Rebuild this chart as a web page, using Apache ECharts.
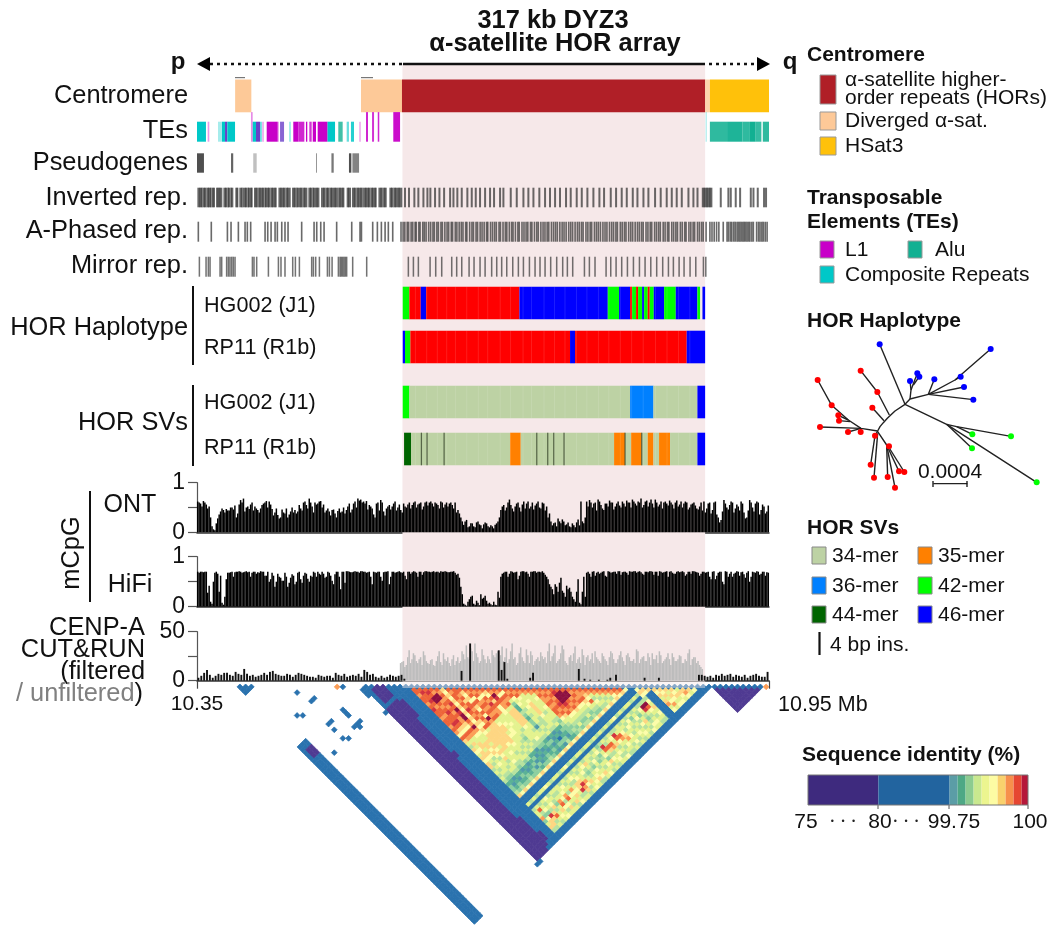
<!DOCTYPE html>
<html><head><meta charset="utf-8">
<style>html,body{margin:0;padding:0;background:#fff}#c{width:1050px;height:936px;filter:blur(.35px)}</style>
<script src="https://cdn.jsdelivr.net/npm/echarts@6/dist/echarts.min.js"></script>
</head><body><div id="c"></div>
<script>
// ---- Axis: kb from 10.35 Mb ----
const AXIS_KB = 600;
const AXIS_LABELS = {0:'{a|10.35}', 600:'{b|10.95 Mb}'};
const HOR_SPAN = [216, 533];

// ---- Segment tracks [startKb, endKb, colour, opacity, height] ----
const CENTROMERE = [[40,57,'div'],[172,215,'div'],[215,533,'hor'],[533,538,'div',.8],[538,600,'hsat']];
const TE_L1 = [[11.2,12.9,'l1',.4],[56.6,58.4,'l1',.45,1.48],[61.9,66.1,'mix'],[68.5,70,'l1',.4],[73.1,84.7,'l1'],[84.7,86,'l1',.35],[87.1,91.3,'mix',.8],[101,106.3,'l1'],[106.3,112.6,'l1',.85],[114.3,115.7,'l1'],[117.8,120.3,'l1',.8],[121.4,124.8,'l1'],[126.6,136.7,'l1'],[170.3,171.7,'l1',.4],[177.3,179.4,'l1',.85,1.48],[183.6,185.7,'l1',.8,1.48],[189.6,191.2,'l1',.85,1.48],[205.9,213,'l1',.95,1.48]];
const TE_COMP = [[0,9.4,'comp'],[22,26.2,'comp',.35],[26.2,29.4,'comp'],[29.4,31.8,'mix'],[31.8,39.9,'comp'],[58.4,61.9,'comp'],[66.1,68,'comp',.6],[96.5,98.6,'comp',.35],[136.7,144.8,'comp'],[148.2,152.8,'alu',.8],[157,159.4,'comp',.6],[161.5,164.7,'comp',.85],[533.6,534.6,'comp',.4,1.48]];
const TE_ALU = [[538,556,'alu',.88],[556,572,'alu',.95],[572,580,'alu',.88],[580,586,'alu',1],[586,592,'alu',.85],[593.5,600,'alu',.88]];
const PSEUDOGENES = [[0,7.3,.85],[35.7,38,.75],[59,62.6,.3],[124.8,125.9,.5],[141,143.4,.65],[159.4,161.9,.85],[163,170,.6]];
const INV_BLOCKS = [[.4,18.9],[20,26.6],[27.7,38.1],[40.2,43.4],[44.4,58.4],[59.8,83.6],[85.4,98.3],[99.7,115.8],[116.8,128.4],[130.1,154.6],[157,161.6],[162.6,188.5],[190.3,199],[201.8,215.4],[529.5,540.6]];
const INV_FLANK_DARK = [3,5,8,12,14,17,22,24,30,33,36,42,47,51,54,57,62,66,69,72,75,79,82,88,91,95,102,105,109,113,119,122,126,133,137,141,145,150,153,159,165,169,172,177,180,184,187,193,197,204,208,212,532,535,538];
const INV_FLANK_LIGHT = [6,10,15,32,35,48,53,64,71,77,93,104,111,121,135,139,148,167,174,182,195,206];
const INV_TICKS = [218.2,222.4,228,232.2,237.5,241.7,244.8,249.7,254.3,259.2,265.5,269,273.1,277.7,283.6,288.2,292.4,296.9,302.2,307.4,311.6,317.9,321.4,329.1,335.4,342.4,347.6,352.9,359.1,365.1,370.3,375.6,380.8,387.1,392,398.3,403.6,409.5,415.8,422.1,427,434,439.6,445.5,450.8,457.1,462,468.3,473.5,480.5,486.4,492.7,498,503.2,508.5,515.5,520.7,525,549.4,557.4,559.9,565.1,569.7,580.9,583.7,588.2,594.8,596.9];
const APHASED_TICKS = [1.4,15,31.9,35.7,43.4,50.4,52.8,56.3,71.4,74.2,77.7,81.9,84.3,88.9,92.3,95.5,109.8,122.8,125.6,129.8,133.3,146.5,162.3,171,172.5,184.3,189.2,193.4,197.3,200.7,205.3,
214,216.2,218,220.5,222,224.6,226.3,228.8,230,232.7,234,236.8,238.4,240.3,243,245.1,247.5,249,251.6,253.2,255.9,257.4,260,262.3,264,266.7,268.1,270.9,272.6,275,277.2,279,281.8,283.1,286,288.4,290,292.7,294.3,297,299,301.2,303.7,305,307.9,310,312.2,314,316.8,318.3,321,323.4,325,327.6,330,331.5,334,336.6,338,340.9,343,345.2,347,349.8,351.3,354,356.4,358,360.7,363,365,367.3,369,371.8,374,376.1,378,380.6,383,385,387.2,389.9,392,394,396.6,399,401,403.3,405,408,410,412.4,414,416.9,419,421,423.2,425.8,428,430,432.7,435,437,439.4,441,444,446,448.3,450,452.8,455,457,459.6,462,464,466.3,468,471,473,475.4,477,480,482,484.2,486,489,491,493.5,495,498,500,502.3,504,507,509,511.6,513,516,518,520.4,522,525,527,529.3,531,534,
538,540.2,542.5,545,547.4,552,556,557.6,559.5,561,563,564.6,566.5,568,569.5,571,572.6,574,575.5,577,578.6,580,582,583.6,587,589,590.6,592.5,594,596,598];
const MIRROR_TICKS = [2.5,9.5,11.9,13.7,24.2,25.9,31.1,32.9,34.6,36.4,38.1,39.9,58.1,59.8,62.6,74.9,85.4,88.1,92.3,100.4,103.2,107.4,120.3,122.1,124.5,128.4,136.8,138.9,141.7,148.3,150.1,151.4,152.8,154.2,155.6,157,163.3,178,
221.7,227,232.2,244.5,250.4,256.7,267.2,272.4,277.7,285.4,290.6,296.9,302.2,309.1,314.4,319.6,324.9,331.2,337.1,342.4,348.7,354.6,359.8,365.1,371,377.3,383.6,388.5,394.1,406.4,411.6,417.5,429.1,434,439.6,445.5,451.5,457.8,464.1,470,476,482.2,488.5,494.5,499.7,505.7,510.9,517.2,523.2,531.2,533.7];
const HAP_HG = [[215.8,222.8,'g42'],[222.8,234.7,'red'],[234.7,240.3,'b46'],[240.3,338.2,'red'],[338.2,430.9,'b46'],[430.9,442.7,'g42'],[442.7,454.3,'b46'],[454.3,456.4,'red'],[456.4,460.6,'g42'],[460.6,462.7,'red'],[462.7,466.9,'g42'],[466.9,469,'b46'],[469,472.8,'g42'],[472.8,474.9,'red'],[474.9,479.1,'g42'],[479.1,490,'b46'],[490,502.2,'g42'],[502.2,524.9,'b46'],[524.9,527.7,'g42'],[530.2,533,'b46']];
const HAP_RP = [[215.8,218.2,'b46'],[218.2,223.8,'g42'],[223.8,391.3,'red'],[391.3,396.6,'b46'],[396.6,513.7,'red'],[513.7,533,'b46']];
const SV_HG = [[215.8,222.8,'g42'],[222.8,454.3,'m34'],[454.3,478.8,'m36'],[478.8,524.9,'m34'],[524.9,533,'b46']];
const SV_RP = [[217.2,224.5,'m44'],[224.5,328.4,'m34'],[328.4,339.6,'m35'],[339.6,437.5,'m34'],[437.5,449,'m35'],[449,455.3,'m34'],[455.3,466.5,'m35'],[466.5,472.8,'m34'],[472.8,478.8,'m35'],[478.8,484.7,'m34'],[484.7,496.2,'m35'],[496.2,524.9,'m34'],[524.9,533,'b46']];
const SV_RP_INS = [235.4,241.3,259.2,356.4,367.9,374.2,385,449,466.5];
const HOR_FAINT = [229,241,252,262,271,283,295,305,318,329,342,351,364,375,386,398,409,421,432,444,456,468,481,493,505,517];

// ---- Signal tracks: two readings per 3 kb bin (first and second half) ----
const BIN_KB = 3;
const ONT = [62,58,63,56,52,12,4,28,42,45,47,44,50,54,38,65,68,50,47,60,52,45,48,58,63,62,47,40,35,30,40,48,36,50,45,42,48,60,55,68,52,60,58,63,56,44,42,45,38,43,40,50,45,58,46,62,68,66,62,63,55,48,30,60,65,42,48,55,52,62,50,45,
58,50,60,55,62,56,60,52,62,60,58,60,55,62,50,60,58,55,60,45,30,
15,25,12,18,10,22,14,16,18,10,12,15,22,
45,55,50,66,48,52,60,42,62,58,48,60,54,62,48,58,52,38,
14,20,28,18,22,16,12,18,10,26,62,18,
62,65,50,60,66,55,45,58,64,60,52,62,50,58,64,60,66,58,62,68,55,64,60,58,66,52,62,60,58,64,56,60,52,62,58,60,50,58,54,46,60,
62,48,60,45,62,30,25,65,50,55,60,48,52,62,40,30,65,50,58,60,45,52,42];
const ONT_HALF = [60,52,60,48,30,6,18,36,48,40,44,50,46,30,56,60,42,52,56,44,48,40,55,60,50,56,34,48,28,46,38,30,42,40,38,55,44,62,48,60,40,56,62,50,40,48,34,46,30,48,42,38,52,40,58,50,64,60,58,46,52,36,58,44,60,34,52,46,58,44,56,40,
52,56,48,60,50,58,46,60,54,62,52,58,48,60,56,52,60,48,40,38,22,
22,10,18,12,20,16,8,20,12,14,8,18,30,
52,44,60,55,42,58,50,56,48,62,52,46,58,50,60,44,30,22,
18,12,22,26,14,20,10,14,20,14,22,30,
52,60,58,44,62,48,58,52,60,46,58,54,62,52,60,50,62,54,60,50,62,52,66,50,60,56,48,62,54,60,48,64,56,50,62,46,56,60,48,52,44,
40,58,38,60,36,20,42,58,46,62,40,56,44,58,28,44,60,42,62,36,56,38,54];
const HIFI = [70,70,69,70,42,6,68,66,62,4,55,68,70,69,70,70,69,71,70,68,70,69,71,70,62,50,68,40,66,58,52,60,48,65,45,68,55,62,66,50,60,68,70,64,66,60,68,52,65,70,35,70,71,70,69,71,70,71,70,68,70,45,69,70,60,69,70,45,70,68,70,69,
70,55,70,69,70,60,70,69,71,70,70,69,70,71,70,70,69,70,68,66,40,
6,2,15,22,4,8,25,18,12,8,3,4,30,
60,68,70,66,70,69,55,70,71,70,60,70,71,70,69,68,60,45,
35,45,30,58,28,42,38,20,10,55,5,60,
68,66,70,62,70,68,71,60,70,69,70,71,64,70,68,71,70,71,70,69,64,70,71,70,70,62,70,69,71,70,68,66,71,70,69,65,70,71,70,68,66,
70,69,60,70,55,68,70,45,70,66,60,68,70,69,65,68,50,70,68,70,66,70,69];
const HIFI_HALF = [68,70,70,28,10,50,70,30,8,20,68,69,60,70,71,68,70,69,60,70,66,68,70,62,70,55,62,50,60,52,68,40,58,62,50,70,48,68,56,62,70,60,66,70,58,70,62,45,70,60,70,48,71,69,70,70,68,71,70,69,60,70,68,70,52,70,71,60,70,69,71,68,
62,70,66,71,68,70,64,71,70,69,71,70,68,70,71,69,70,71,64,58,25,
4,10,20,6,12,3,16,22,6,5,10,3,18,
66,70,60,71,68,70,62,71,69,66,70,71,68,70,71,64,55,40,
25,40,48,32,20,35,30,15,30,8,30,20,
70,60,71,68,66,70,62,71,68,70,66,71,69,70,64,70,71,68,71,66,70,69,71,64,70,71,68,70,60,71,66,70,69,71,62,70,66,71,69,62,70,
68,70,55,71,62,70,50,71,60,70,66,71,62,70,58,71,60,69,71,64,70,62,68];
const CENPA_FILTERED = [3,5,8,11,6,3,5,7,6,8,8,6,5,9,7,6,12,7,5,6,4,5,6,8,6,9,10,7,6,5,5,7,6,4,6,8,7,6,5,4,4,3,6,5,4,5,5,3,8,6,5,7,4,5,6,5,7,4,11,9,6,7,4,3,5,3,4,6,5,4,5,6,
2,0,0,0,0,0,0,0,0,0, 0,0,0,0,0,0,0,0,0,0, 10,0,0,38,0,0,0,0,0,0, 0,0,0,31,11,19,2,0,0,0, 0,0,0,0,3,8,0,0,0,0, 0,0,0,0,0,0,0,0,0,0, 0,12,0,2,0,1,0,0,1,0, 0,1,3,0,6,0,0,0,0,0, 0,0,0,0,3,0,0,0,0,3, 0,0,0,0,0,0,0,0,0,0, 0,0,0,6,6,
5,4,5,3,6,5,7,5,6,7,4,6,5,4,6,3,5,6,7,5,4,4,9];
const CENPA_UNFILTERED_FIRST_BIN = 71;
const CENPA_UNFILTERED = [18,20,16,31,22,26,18,24,30,20,17,22,15,25,19,28,20,18,22,16,24,20,27,36,22,30,38,24,20,26,18,22,31,24,30,26,20,33,22,38,24,18,34,20,32,18,26,20,24,29,22,18,38,25,36,20,28,32,18,24,20,35,22,18,26,24,20,28,30,22,18,25,20,24,28,18,22,30,20,26,24,20,18,30,22,25,20,24,28,22,18,26,20,24,22,28,20,22,25,18,20,32,22,24,20,14];
const CENPA_UNFILTERED_HALF = [19,14,24,18,28,20,22,16,26,18,21,16,20,30,16,22,24,15,26,20,18,30,22,24,33,20,28,18,32,22,25,18,26,28,20,35,24,18,30,22,16,28,24,18,26,30,16,22,20,25,24,30,20,28,18,22,36,20,16,26,28,18,24,32,16,26,22,18,24,20,28,22,16,30,22,18,26,24,16,28,20,22,32,18,24,20,28,16,22,26,30,18,22,28,16,24,20,26,18,22,28,16,24,18,16,12];

// ---- Sequence identity: classes per window pair ----
const WINDOW_KB = 6;
const HEAT_FIRST = 37; // window index of the first row / column
const HEAT_ROWS = [
"1aa9aa9aba a9aa9a97a8 6587687885 6565344581 16156694685",
"1abaaba9a a9aaba87a9 6867887656 5654323471 1516a547885",
"1abacca9 abaaba87a9 6688687567 6654234581 1615674b856",
"1a9cc9a 9a9a9987a9 7668878756 6565323471 15165658a65",
"1a9a9a bacbcca9c9 7668687878 5665343481 16176785676",
"18787 8787878787 8788886866 6754234571 16156546867",
"1a9a a9a9ba9a87 a688888867 6655323481 1716569a756",
"1aa 9a8aa9a9a9 a888888766 5664234471 16165675786",
"1a 8787a87a7c 9888888876 6565342481 1516679a656",
"1 a9a7a9a9a9 a678867666 5653424371 16157657685",
"1a9a79a9a9 a667677665 6563232481 16165697867",
"1a97a9ba9 9666766654 5652323471 15156567656",
"1a87a8a7 7766666566 6554234581 16167588b56",
"1a9cba9 9688888766 6754323471 1715678b985",
"1a97a9 a688888665 6653434381 15165669756",
"1a7a9 6433543442 5652423271 16156756867",
"1a9a 7676565665 6563234381 15167545676",
"1a9 a766766655 5652314271 16158656785",
"1a 9667888876 6653234581 16166547675",
"1 a966666656 6563432371 15165765686",
"1a96766766 6545444381 16156546567",
"1a9a99a9a a976545471 16167456765",
"1a9a9a9a 9a86654581 15145674856",
"1a9a9ab a9a7656471 1615ba65765",
"1abccc ba97654581 15165a85676",
"1accc a9a8654571 16156a96756",
"1acc 9a97656481 15167685657",
"1a9 a9a7654571 1615ba76565",
"1a 99a8765481 15156a96765",
"1 a987a65471 16166789656",
"1a96576581 17156567675",
"1a9656571 15165765656",
"1a965681 16157656765",
"1a96571 15164565676",
"1a9781 16156757565",
"1a971 16165468657",
"1a81 15157654576",
"171 1615cb65676",
"11 1515ca76565",
"1 78757686765",
"18711111111",
"1811111111",
"187868967",
"18786796",
"1868767",
"187867",
"16876",
"1897",
"186",
"17",
"1"];
// [firstI, lastI, firstJ, lastJ, class]
const HEAT_BLOCKS = [[29,36,29,36,'1'],[30,32,31,35,'0'],[29,32,37,89,'0'],[33,36,37,89,'1'],[37,87,88,89,'1'],[88,89,88,89,'1'],[33,33,38,43,'0'],[33,33,56,57,'0'],[33,33,79,84,'0'],[33,33,84,88,'0'],[34,34,85,87,'0'],
[7,9,7,9,'1'],[7,9,28,89,'1'],[8,9,30,32,'0'],[90,97,90,98,'0']];
const HEAT_DOTS = [[16,18,'1'],[24,24,'9'],[25,25,'1'],[17,22,'1'],[18,22,'1'],[12,22,'1'],[13,23,'1'],[21,29,'1'],[21,30,'1'],[21,31,'1'],[16,29,'1'],[17,29,'1'],[16,31,'1'],[20,34,'1'],[21,34,'1'],[21,35,'1'],[22,34,'1'],[16,34,'1'],[17,35,'1'],[12,35,'1'],[28,37,'1'],[28,29,'1'],[28,30,'1'],[28,31,'1'],[28,90,'1'],[29,90,'1'],[90,90,'1'],[91,91,'1'],[92,92,'1'],[93,93,'1'],[94,94,'1'],[95,95,'1'],[96,96,'1'],[97,97,'1'],[98,98,'1'],[99,99,'9']];
const HEAT_COLORS = {'0':'#4f3a92','1':'#2a72ae','2':'#4f9aa8','3':'#5bb196','4':'#8ccf9f','5':'#b7e29f','6':'#e3f28e','7':'#fdfdaa','8':'#fed682','9':'#fb9e58','a':'#ee6439','b':'#d2343f','c':'#8e1040'};
const CBAR_EDGES = [0,8.8,17.7,18.7,19.7,20.7,21.7,22.7,23.7,24.7,25.7,26.7,27.5];
const CBAR_COLORS = ['#3e2a7e','#22649f','#5b9da6','#4ea885','#8ccb90','#c9e88f','#ecf58f','#fdfca3','#f9d16d','#f78f4c','#e64632','#b5173a','#6e0b33'];

// ---- Haplotype tree (layout units) ----
const TREE_BRANCHES = [
[[233,303],[240,290],[250,278],[262,265],[285,243],[315,223]],
[[315,223],[239,43]],
[[315,223],[330,207],[385,193]],
[[330,207],[333,180],[330,153]],
[[333,180],[352,130]],[[340,165],[358,140]],
[[385,193],[403,148]],
[[385,193],[465,150],[572,57]],[[465,150],[482,140]],
[[385,193],[492,171]],[[385,193],[520,209]],
[[315,223],[440,283],[710,457]],
[[440,283],[470,290],[633,319]],[[470,290],[517,313]],[[440,283],[516,355]],
[[268,255],[232,186],[182,122]],
[[252,272],[217,233]],
[[233,303],[183,295],[145,270],[95,226],[53,150]],
[[145,270],[115,256]],[[150,275],[117,272]],
[[183,295],[60,291]],[[183,295],[144,306]],[[183,295],[182,306]],
[[233,303],[225,317],[212,404]],[[233,310],[222,443]],
[[233,305],[260,345],[267,349]],[[260,345],[263,441]],[[260,345],[285,473]],[[260,345],[297,424]],[[262,345],[313,426]]];
const TIPS_RED = [[53,150],[95,226],[115,256],[117,272],[60,291],[144,306],[182,306],[182,122],[232,186],[217,233],[225,317],[212,404],[222,443],[267,349],[263,441],[285,473],[297,424],[313,426]];
const TIPS_BLUE = [[239,43],[572,57],[482,140],[492,171],[520,209],[403,148],[352,130],[358,140],[330,153]];
const TIPS_GREEN = [[710,457],[633,319],[517,313],[516,355]];
const TREE_SCALE = [[400,461],[502,461]];

const COLORS = {hor:'#b01f27',div:'#fdc998',hsat:'#ffc10a',l1:'#c800c8',comp:'#00c8c8',alu:'#12b092',mix:'#6a3fc8',ink:'#303030',red:'#ff0000',g42:'#00ff00',b46:'#0000ff',m34:'#bdd2a4',m35:'#ff8000',m36:'#0080ff',m44:'#006400',ins:'#3c4a30',white:'#ffffff',pink:'#f6e8e9'};
const COLOR_KEYS = Object.keys(COLORS);
const FONT = '"Liberation Sans", Arial, sans-serif';

// ---- Helpers ----
const grid=[], xAxis=[], yAxis=[], series=[];
function track(top,bottom,yMax){
  const i=grid.length;
  grid.push({left:197,width:572,top:top,height:bottom-top});
  xAxis.push({type:'value',gridIndex:i,min:0,max:AXIS_KB,show:false});
  yAxis.push({type:'value',gridIndex:i,min:0,max:yMax||1,show:false});
  return i;
}
function toRows(list){return list.map(r=>[r[0],r[1],COLOR_KEYS.indexOf(r[2]),r[3]==null?1:r[3],r[4]==null?1:r[4]]);}
function ticks(list,w,name,op){return list.map(k=>[k-w/2,k+w/2,name,op]);}
function segs(i,list,z){
  series.push({type:'custom',xAxisIndex:i,yAxisIndex:i,data:toRows(list),z:z||2,silent:true,clip:false,
    encode:{x:[0,1],y:4},
    renderItem(p,api){
      const a=api.coord([api.value(0),0]),b=api.coord([api.value(1),api.value(4)]);
      return {type:'rect',shape:{x:a[0],y:b[1],width:Math.max(b[0]-a[0],.5),height:a[1]-b[1]},
        style:{fill:COLORS[COLOR_KEYS[api.value(2)]],opacity:api.value(3)}};
    }});
}

// Background band
const bg=track(64,681); segs(bg,[[HOR_SPAN[0]-.5,HOR_SPAN[1],'pink']],0);
const bg2=track(681,688); segs(bg2,[[HOR_SPAN[0]-.5,HOR_SPAN[1],'pink',.45]],0);

segs(track(79.5,112.3),CENTROMERE);
const teRows=TE_COMP.concat(TE_ALU,TE_L1);
segs(track(112,141.7,1.485),teRows);
segs(track(153.3,172.7),PSEUDOGENES.map(p=>[p[0],p[1],'ink',p[2]]));
segs(track(187.7,207.3),INV_BLOCKS.map(b=>[b[0],b[1],'ink',.74]).concat(ticks(INV_FLANK_DARK,1.2,'ink',.55),ticks(INV_FLANK_LIGHT,.6,'white',.4),ticks(INV_TICKS,2.1,'ink',.72)));
segs(track(221.7,241.7),ticks(APHASED_TICKS,1.7,'ink',.72));
segs(track(256.7,276.7),ticks(MIRROR_TICKS,1.6,'ink',.68));
const fa=ticks(HOR_FAINT,.8,'white',.15);
segs(track(286.7,319.3),HAP_HG.concat(fa));
segs(track(330.7,363.3),HAP_RP.concat(fa));
segs(track(385.7,418.3),SV_HG.concat(fa));
segs(track(432.7,465.3),SV_RP.concat(fa,ticks(SV_RP_INS,1.3,'ins',.8)));

// Signal tracks
function signalGrid(top,bottom,max,interval,showX){
  const i=grid.length;
  grid.push({left:197,width:572,top:top,height:bottom-top});
  xAxis.push({type:'value',gridIndex:i,min:0,max:AXIS_KB,interval:AXIS_KB,
    axisLine:{show:true,onZero:false,lineStyle:{color:'#333',width:1.5}},
    axisTick:{show:showX,length:8,lineStyle:{color:'#444',width:1.2}},splitLine:{show:false},
    axisLabel:{show:showX,margin:13,alignMinLabel:'center',alignMaxLabel:'left',
      rich:{a:{fontFamily:FONT,fontSize:21,color:'#111'},b:{fontFamily:FONT,fontSize:21.5,color:'#111',padding:[0,0,0,9]}},
      formatter:v=>AXIS_LABELS[v]||''}});
  yAxis.push({type:'value',gridIndex:i,min:0,max:max,interval:interval,
    axisLine:{show:true,onZero:false,lineStyle:{color:'#555',width:1.2}},
    axisTick:{show:true,length:9,lineStyle:{color:'#555',width:1.2}},splitLine:{show:false},
    axisLabel:{fontFamily:FONT,fontSize:23,color:'#111',margin:12,formatter:v=>(v===0||v===max)?String(v):''}});
  return i;
}
function bars(i,vals,first,scale,color,w,off){
  series.push({type:'bar',xAxisIndex:i,yAxisIndex:i,barWidth:w,barGap:'-100%',silent:true,z:3,
    itemStyle:{color:color},
    data:vals.map((v,k)=>[(k+first)*BIN_KB+off,v*scale])});
}
const gOnt=signalGrid(482.7,532.3,1,.5,false);
bars(gOnt,ONT,0,.01,'#000',1.5,.75); bars(gOnt,ONT_HALF,0,.01,'#000',1.5,2.25);
const gHifi=signalGrid(556.7,606.7,1,.5,false);
bars(gHifi,HIFI,0,.01,'#000',1.5,.75); bars(gHifi,HIFI_HALF,0,.01,'#000',1.5,2.25);
const gCen=signalGrid(631.7,680.7,50,25,true);
bars(gCen,CENPA_UNFILTERED,CENPA_UNFILTERED_FIRST_BIN,1,'#bdbdbd',1.5,.75);
bars(gCen,CENPA_UNFILTERED_HALF,CENPA_UNFILTERED_FIRST_BIN,1,'#bdbdbd',1.5,2.25);
bars(gCen,CENPA_FILTERED,0,1,'#111',1.9,1.5);

// Sequence identity triangle
const heatMap=new Map();
function put(I,J,c){if(J>=I)heatMap.set(I+'_'+J,[I,J,c]);}
HEAT_BLOCKS.forEach(b=>{for(let I=b[0];I<=b[1];I++)for(let J=b[2];J<=b[3];J++)put(I,J,b[4]);});
HEAT_ROWS.forEach((row,r)=>{const s=row.replace(/ /g,'').padStart(51,'.');
  for(let c=r;c<51;c++){const ch=s.charAt(c);if(ch&&ch!=='.')put(HEAT_FIRST+r,HEAT_FIRST+c,ch);}});
HEAT_DOTS.forEach(d=>put(d[0],d[1],d[2]));
const HEAT_KEYS=Object.keys(HEAT_COLORS);
const heatData=[...heatMap.values()].map(v=>[v[0],v[1],HEAT_KEYS.indexOf(v[2])]);
const gHeat=grid.length;
grid.push({left:197,width:572,top:684,height:247});
xAxis.push({type:'value',gridIndex:gHeat,min:0,max:AXIS_KB,show:false});
yAxis.push({type:'value',gridIndex:gHeat,min:-3,max:256,inverse:true,show:false});
series.push({type:'custom',xAxisIndex:gHeat,yAxisIndex:gHeat,data:heatData,silent:true,z:1,clip:false,
  encode:{x:0,y:1},
  renderItem(p,api){
    const I=api.value(0),J=api.value(1),cx=(I+J+1)*WINDOW_KB/2,d=(J-I)*WINDOW_KB/2,h=WINDOW_KB/2;
    const pts=[[cx-h,d],[cx,d-h],[cx+h,d],[cx,d+h]].map(q=>api.coord(q));
    const col=HEAT_COLORS[HEAT_KEYS[api.value(2)]];
    return {type:'polygon',shape:{points:pts},style:{fill:col,stroke:col,lineWidth:.8}};
  }});

// Tree
const gTree=grid.length;
grid.push({left:800,top:330,width:240,height:170});
xAxis.push({type:'value',gridIndex:gTree,min:0,max:720,show:false});
yAxis.push({type:'value',gridIndex:gTree,min:0,max:510,inverse:true,show:false});
TREE_BRANCHES.concat([TREE_SCALE]).forEach(b=>series.push({type:'line',xAxisIndex:gTree,yAxisIndex:gTree,data:b,symbol:'none',silent:true,z:3,lineStyle:{color:'#222',width:1.4}}));
[[TIPS_RED,'#ff0000'],[TIPS_BLUE,'#0000ff'],[TIPS_GREEN,'#00ff00']].forEach(t=>series.push({type:'scatter',xAxisIndex:gTree,yAxisIndex:gTree,data:t[0],symbolSize:6,silent:true,z:4,itemStyle:{color:t[1],opacity:1}}));

// Colour bar
const gBar=grid.length;
grid.push({left:808,top:775,width:220,height:30});
xAxis.push({type:'value',gridIndex:gBar,min:0,max:27.5,show:false});
yAxis.push({type:'value',gridIndex:gBar,min:0,max:1,show:false});
series.push({type:'custom',xAxisIndex:gBar,yAxisIndex:gBar,silent:true,z:3,
  data:CBAR_COLORS.map((c,i)=>[CBAR_EDGES[i],CBAR_EDGES[i+1],i]),encode:{x:[0,1]},
  renderItem(p,api){const a=api.coord([api.value(0),0]),b=api.coord([api.value(1),1]);
    return {type:'rect',shape:{x:a[0],y:b[1],width:b[0]-a[0],height:a[1]-b[1]},style:{fill:CBAR_COLORS[api.value(2)]}};}});

// ---- Text and legend ----
const g=[];
function t(x,y,text,size,o){o=o||{};
  g.push({type:'text',x:x,y:y+1,rotation:o.rot||0,z:10,silent:true,style:{text:text,fontFamily:FONT,fontSize:size,fontWeight:o.bold?'bold':'normal',fill:o.fill||'#111',align:o.align||'left',verticalAlign:'middle',rich:o.rich}});
}
function r(x,y,w,h,fill,stroke){g.push({type:'rect',z:10,silent:true,shape:{x:x,y:y,width:w,height:h},style:{fill:fill,stroke:stroke||null,lineWidth:stroke?1:0}});}
function ln(x1,y1,x2,y2,w,o){o=o||{};g.push({type:'line',z:10,silent:true,shape:{x1,y1,x2,y2},style:{stroke:o.c||'#111',lineWidth:w,lineDash:o.dash||null}});}
function tri(points){g.push({type:'polygon',z:10,silent:true,shape:{points},style:{fill:'#000'}});}

const BIG=25.4, LEG=21;
t(553,20,'317 kb DYZ3',25.4,{bold:true,align:'center'});
t(555,43,'α-satellite HOR array',25.4,{bold:true,align:'center'});
t(178,61,'p',24,{bold:true,align:'center'});
t(790,61,'q',24,{bold:true,align:'center'});
ln(403,64,705,64,2.4);
ln(210,64,403,64,2.4,{dash:[3,4]});
ln(709,64,756,64,2.4,{dash:[3,4]});
tri([[197,64],[210,57],[210,71]]);
tri([[770,64],[757,57],[757,71]]);
r(235,77,10,1.2,'#777'); r(361,77,12,1.2,'#777');

const LAB=[['Centromere',95],['TEs',130],['Pseudogenes',162],['Inverted rep.',197],['A-Phased rep.',230],['Mirror rep.',265]];
LAB.forEach(l=>t(188,l[1],l[0],BIG,{align:'right'}));
t(188,327,'HOR Haplotype',BIG,{align:'right'});
t(188,422,'HOR SVs',BIG,{align:'right'});
ln(193,286,193,365,2); ln(193,385,193,466,2);
t(204,305,'HG002 (J1)',21.6); t(204,347,'RP11 (R1b)',21.6);
t(204,402,'HG002 (J1)',21.6); t(204,447,'RP11 (R1b)',21.6);
ln(90,491,90,602,2);
t(72,552,'mCpG',BIG,{align:'center',rot:Math.PI/2});
t(130,504,'ONT',25,{align:'center'});
t(130,584,'HiFi',25,{align:'center'});
t(145,627,'CENP-A',BIG,{align:'right'});
t(145,649,'CUT&RUN',BIG,{align:'right'});
t(145,671,'(filtered',BIG,{align:'right'});
t(143,693,'{g|/ unfiltered}{k|)}',BIG,{align:'right',rich:{g:{fill:'#808080',fontFamily:FONT,fontSize:BIG},k:{fill:'#111',fontFamily:FONT,fontSize:BIG}}});

// Legends
t(807,54,'Centromere',LEG,{bold:true});
r(820,75,16,29,COLORS.hor,'#999'); t(845,79,'α-satellite higher-',LEG); t(845,97,'order repeats (HORs)',LEG);
r(820,112,16,18,COLORS.div,'#999'); t(845,120,'Diverged α-sat.',LEG);
r(820,137,16,18,COLORS.hsat,'#999'); t(845,145,'HSat3',LEG);
t(807,197,'Transposable',LEG,{bold:true}); t(807,221,'Elements (TEs)',LEG,{bold:true});
r(820,241,14,17,COLORS.l1,'#999'); t(845,249,'L1',LEG);
r(908,241,14,17,COLORS.alu,'#999'); t(935,249,'Alu',LEG);
r(820,266,14,17,COLORS.comp,'#999'); t(845,274,'Composite Repeats',LEG);
t(807,320,'HOR Haplotype',LEG,{bold:true});
t(950,471,'0.0004',21,{align:'center'});
ln(933,481,933,487,1.3); ln(967,481,967,487,1.3);
t(807,527,'HOR SVs',LEG,{bold:true});
[[812,547,'m34','34-mer',832],[918,547,'m35','35-mer',938],[812,577,'m36','36-mer',832],[918,577,'g42','42-mer',938],[812,606,'m44','44-mer',832],[918,606,'b46','46-mer',938]].forEach(s=>{
  r(s[0],s[1],14,17,COLORS[s[2]],'#888'); t(s[4],s[1]+8,s[3],LEG);});
ln(819.5,632,819.5,655,2.2); t(830,644,'4 bp ins.',LEG);
t(802,754,'Sequence identity (%)',LEG,{bold:true});
g.push({type:'rect',z:11,silent:true,shape:{x:808,y:775,width:220,height:30},style:{fill:'none',stroke:'#777',lineWidth:1}});
ln(878,805,878,809,1,{c:'#555'}); ln(949,805,949,809,1,{c:'#555'}); ln(1028,805,1028,809,1,{c:'#555'});
t(806,821,'75',21,{align:'center'}); t(880,821,'80',21,{align:'center'});
t(954,821,'99.75',21,{align:'center'}); t(1030,821,'100',21,{align:'center'});
t(843,821,'•   •   •',9,{align:'center',fill:'#222'});
t(906,821,'•   •   •',9,{align:'center',fill:'#222'});

const chart=echarts.init(document.getElementById('c'),null,{renderer:'canvas'});
chart.setOption({animation:false,backgroundColor:'#fff',tooltip:{show:false},grid,xAxis,yAxis,series,graphic:{elements:g}});
</script></body></html>
